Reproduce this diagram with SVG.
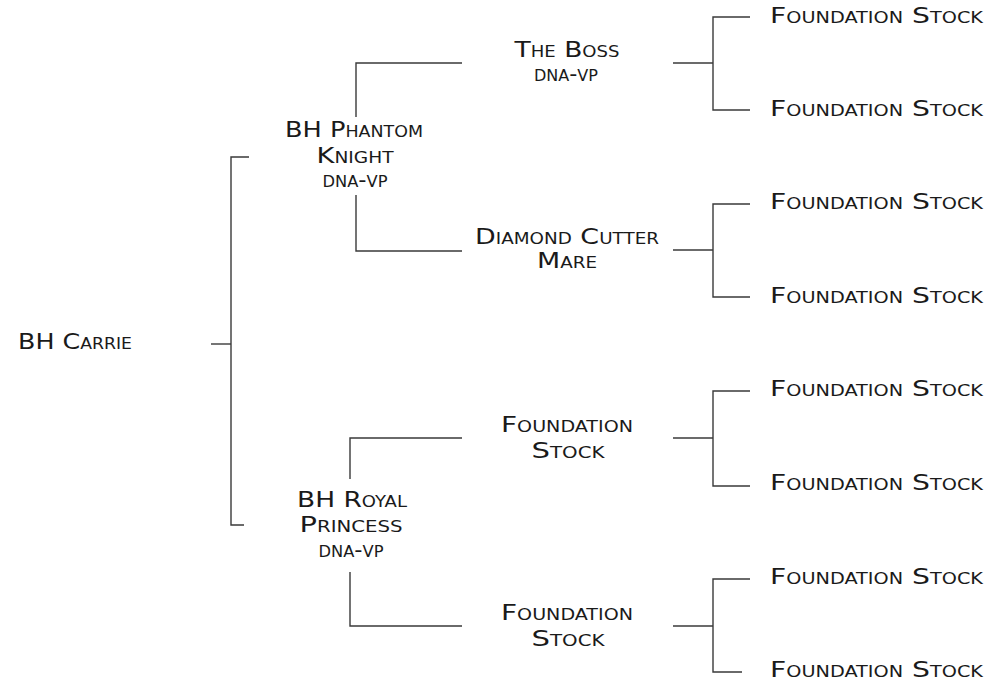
<svg xmlns="http://www.w3.org/2000/svg" width="989" height="686" viewBox="0 0 989 686">
<style>
text{font-family:"DejaVu Sans","Liberation Sans",sans-serif;font-size:22px;font-variant:small-caps;fill:#1a1a1a;}
text.c{text-anchor:middle;}
text.s{font-size:21px;}
.conn path{fill:none;stroke:#3a3a3a;stroke-width:1.4;}
</style>
<rect width="989" height="686" fill="#ffffff"/>
<g class="conn" id="connectors">
<path d="M211,344 H231"/>
<path d="M249,157 H231 V525 H244"/>
<path d="M462,63 H356 V117"/>
<path d="M356,195 V251 H462"/>
<path d="M462,438 H350 V479"/>
<path d="M350,572 V626 H462"/>
<path d="M673,63 H713"/>
<path d="M750,17 H713 V110 H750"/>
<path d="M673,250 H713"/>
<path d="M750,204 H713 V297 H750"/>
<path d="M673,438 H713"/>
<path d="M750,391 H713 V486 H750"/>
<path d="M673,626 H713"/>
<path d="M750,579 H713 V672 H742"/>
</g>
<g id="bh-carrie"><text x="18" y="349" textLength="114" lengthAdjust="spacingAndGlyphs">BH Carrie</text></g>
<g id="bh-phantom-knight">
<text class="c" x="354" y="137" textLength="138" lengthAdjust="spacingAndGlyphs">BH Phantom</text>
<text class="c" x="355" y="163" textLength="77" lengthAdjust="spacingAndGlyphs">Knight</text>
<text class="c s" x="355" y="187" textLength="65" lengthAdjust="spacingAndGlyphs">dna-vp</text>
</g>
<g id="bh-royal-princess">
<text class="c" x="352" y="507" textLength="110" lengthAdjust="spacingAndGlyphs">BH Royal</text>
<text class="c" x="351" y="532" textLength="103" lengthAdjust="spacingAndGlyphs">Princess</text>
<text class="c s" x="351" y="557" textLength="65" lengthAdjust="spacingAndGlyphs">dna-vp</text>
</g>
<g id="the-boss">
<text class="c" x="567" y="57" textLength="105" lengthAdjust="spacingAndGlyphs">The Boss</text>
<text class="c s" x="566" y="81" textLength="64" lengthAdjust="spacingAndGlyphs">dna-vp</text>
</g>
<g id="diamond-cutter-mare">
<text class="c" x="567" y="244" textLength="184" lengthAdjust="spacingAndGlyphs">Diamond Cutter</text>
<text class="c" x="567" y="268" textLength="60" lengthAdjust="spacingAndGlyphs">Mare</text>
</g>
<g id="foundation-stock-3">
<text class="c" x="567" y="432" textLength="132" lengthAdjust="spacingAndGlyphs">Foundation</text>
<text class="c" x="568" y="458" textLength="73" lengthAdjust="spacingAndGlyphs">Stock</text>
</g>
<g id="foundation-stock-4">
<text class="c" x="567" y="620" textLength="132" lengthAdjust="spacingAndGlyphs">Foundation</text>
<text class="c" x="568" y="646" textLength="73" lengthAdjust="spacingAndGlyphs">Stock</text>
</g>
<g id="foundation-stock-r1"><text x="770" y="23" textLength="213" lengthAdjust="spacingAndGlyphs">Foundation Stock</text></g>
<g id="foundation-stock-r2"><text x="770" y="116" textLength="213" lengthAdjust="spacingAndGlyphs">Foundation Stock</text></g>
<g id="foundation-stock-r3"><text x="770" y="209" textLength="213" lengthAdjust="spacingAndGlyphs">Foundation Stock</text></g>
<g id="foundation-stock-r4"><text x="770" y="303" textLength="213" lengthAdjust="spacingAndGlyphs">Foundation Stock</text></g>
<g id="foundation-stock-r5"><text x="770" y="396" textLength="213" lengthAdjust="spacingAndGlyphs">Foundation Stock</text></g>
<g id="foundation-stock-r6"><text x="770" y="490" textLength="213" lengthAdjust="spacingAndGlyphs">Foundation Stock</text></g>
<g id="foundation-stock-r7"><text x="770" y="584" textLength="213" lengthAdjust="spacingAndGlyphs">Foundation Stock</text></g>
<g id="foundation-stock-r8"><text x="770" y="677" textLength="213" lengthAdjust="spacingAndGlyphs">Foundation Stock</text></g>
</svg>
